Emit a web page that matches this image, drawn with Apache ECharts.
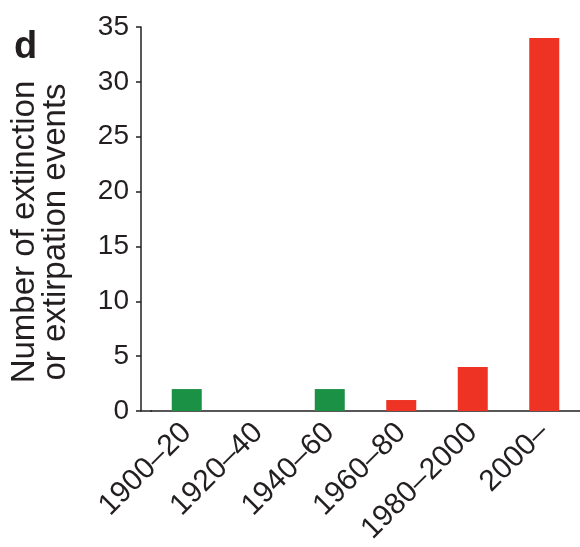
<!DOCTYPE html>
<html>
<head>
<meta charset="utf-8">
<script src="https://cdn.jsdelivr.net/npm/echarts@6/dist/echarts.min.js"></script>
<style>
  html, body { margin: 0; padding: 0; background: #fff; }
  #chart { width: 580px; height: 547px; }
</style>
</head>
<body>
<div id="chart"></div>
<script>
// periods on the x axis
const periods = ['1900–20', '1920–40', '1940–60', '1960–80', '1980–2000', '2000–']
// number of extinction / extirpation events per period
const events = [2, 0, 2, 1, 4, 34]
// colour group of each bar (green / red in the figure)
const groups = ['green', 'green', 'green', 'red', 'red', 'red']
const yTicks = [0, 5, 10, 15, 20, 25, 30, 35]

const groupColor = { green: '#1b9145', red: '#ee3224' }
const ink = '#231f20'
const font = '"Liberation Sans", Arial, Helvetica, sans-serif'

const chart = echarts.init(document.getElementById('chart'))

const option = {
  backgroundColor: '#fff',
  animation: false,
  title: {
    text: 'd',
    left: 9,
    top: 24,
    textStyle: { fontSize: 38, fontWeight: 'bold', color: ink, fontFamily: font }
  },
  grid: { left: 151, right: 0, top: 27, bottom: 136 },
  xAxis: {
    type: 'category',
    data: periods,
    axisLine: { lineStyle: { color: ink, width: 1.5 } },
    axisTick: { show: false },
    axisLabel: {
      interval: 0,
      rotate: 45,
      margin: 17,
      fontSize: 30,
      color: ink,
      fontFamily: font
    }
  },
  yAxis: {
    type: 'value',
    min: yTicks[0],
    max: yTicks[yTicks.length - 1],
    interval: yTicks[1] - yTicks[0],
    offset: 10,
    name: 'Number of extinction\nor extirpation events',
    nameLocation: 'middle',
    nameRotate: 90,
    nameGap: 70,
    nameTextStyle: {
      fontSize: 33,
      lineHeight: 31,
      color: ink,
      fontFamily: font,
      padding: [0, 26, 0, 0]
    },
    axisLine: { show: true, lineStyle: { color: ink, width: 1.5 } },
    axisTick: { show: true, length: 5, lineStyle: { color: ink, width: 1.5 } },
    splitLine: { show: false },
    axisLabel: { fontSize: 28, margin: 12, color: ink, fontFamily: font }
  },
  // short piece of the x axis line between the offset y axis and the grid
  graphic: [{
    type: 'line',
    shape: { x1: 141, y1: 411, x2: 152, y2: 411 },
    style: { stroke: ink, lineWidth: 1.5 }
  }],
  series: [{
    type: 'bar',
    barWidth: 30,
    data: events.map((v, i) => ({ value: v, itemStyle: { color: groupColor[groups[i]] } }))
  }]
}

chart.setOption(option)
</script>
</body>
</html>
